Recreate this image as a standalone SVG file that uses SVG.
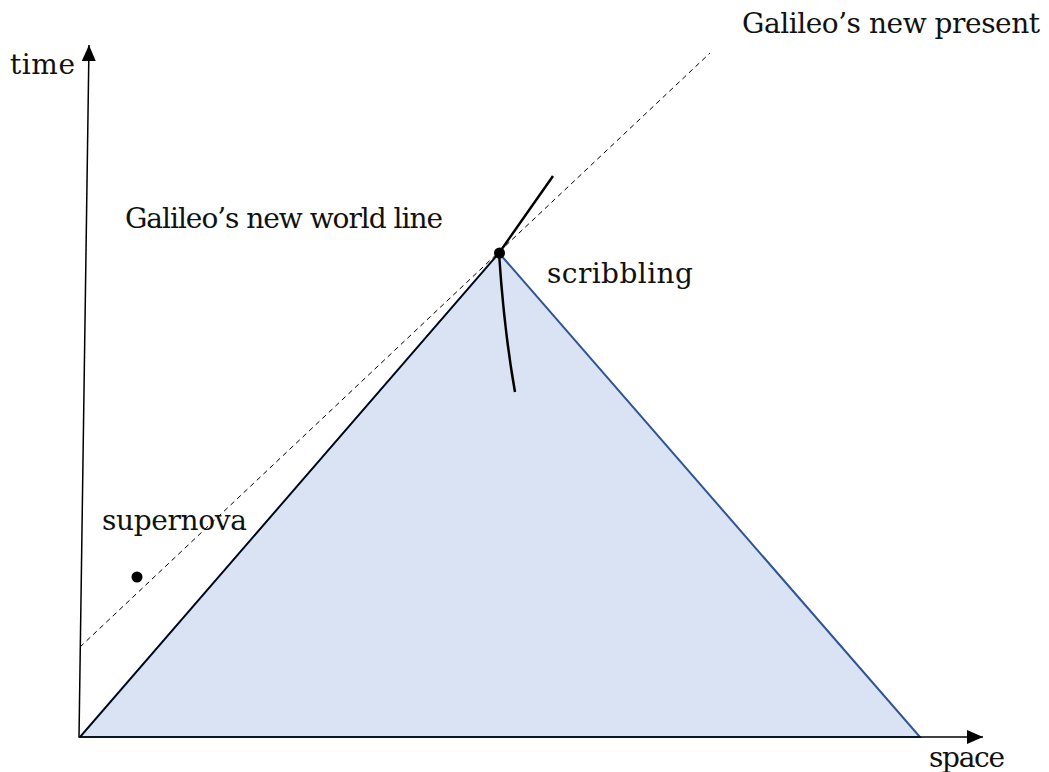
<svg xmlns="http://www.w3.org/2000/svg" width="1049" height="772" viewBox="0 0 1049 772">
<style>
text{font-family:"DejaVu Serif","Liberation Serif",serif;font-size:28px;fill:#111}
.ax{stroke:#000;stroke-width:1.5;fill:none}
</style>
<defs>
<marker id="ah2" viewBox="0 0 16 14" refX="16" refY="7" markerWidth="16" markerHeight="14" markerUnits="userSpaceOnUse" orient="auto">
<path d="M0,0 L16,7 L0,14 Z" fill="#000"/>
</marker>
</defs>
<g id="lightcone">
<path d="M80,737 L499,253 L920,737 Z" fill="#dae3f3" stroke="#2f5597" stroke-width="2"/>
</g>
<g id="connectors">
<line class="ax" x1="79" y1="737" x2="89" y2="45" marker-end="url(#ah2)"/>
<line class="ax" x1="79" y1="737" x2="983" y2="737" marker-end="url(#ah2)"/>
<line x1="80" y1="737" x2="499" y2="253" stroke="#000" stroke-width="1.5"/>
<line x1="80" y1="647" x2="710" y2="53" stroke="#000" stroke-width="1" stroke-dasharray="5,4"/>
<path d="M553,176 L499,253 Q504,330 515,392" fill="none" stroke="#000" stroke-width="2.5"/>
</g>
<g id="event-scribbling">
<circle cx="499.5" cy="253" r="5.5" fill="#000"/>
<text x="547" y="283" textLength="146">scribbling</text>
</g>
<g id="event-supernova">
<circle cx="137" cy="577" r="5.5" fill="#000"/>
<text x="102" y="530" textLength="145">supernova</text>
</g>
<g id="labels">
<text x="10" y="74" textLength="65">time</text>
<text x="929" y="767" textLength="76">space</text>
<text x="742" y="33" textLength="298">Galileo’s new present</text>
<text x="125" y="228" textLength="318">Galileo’s new world line</text>
</g>
</svg>
